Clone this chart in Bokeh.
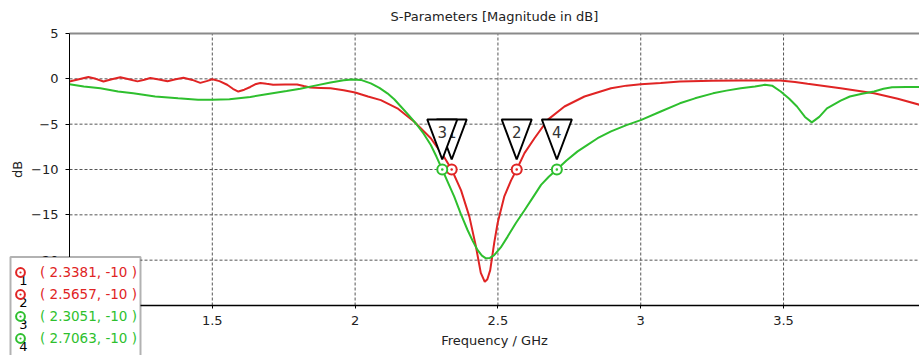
from bokeh.plotting import figure
from bokeh.models import (FixedTicker, LinearAxis, Legend, LegendItem, Label,
                          BoxAnnotation, Range1d, NumeralTickFormatter)
from bokeh.core.properties import value
from bokeh.embed import file_html
from bokeh.resources import INLINE

# ---------------- data ----------------
freq_s11 = [1.000, 1.033, 1.066, 1.092, 1.119, 1.148, 1.178, 1.208, 1.238, 1.262,
            1.283, 1.313, 1.343, 1.372, 1.399, 1.430, 1.458, 1.480, 1.500, 1.525,
            1.552, 1.572, 1.591, 1.612, 1.633, 1.650, 1.668, 1.690, 1.713, 1.755,
            1.797, 1.820, 1.843, 1.880, 1.914, 1.960, 2.000, 2.045, 2.090, 2.148,
            2.206, 2.265, 2.311, 2.3381, 2.371, 2.400, 2.423, 2.440, 2.454, 2.463,
            2.473, 2.487, 2.499, 2.522, 2.546, 2.5657, 2.593, 2.628, 2.675, 2.733,
            2.803, 2.896, 2.950, 3.000, 3.070, 3.137, 3.250, 3.350, 3.488, 3.540,
            3.584, 3.700, 3.817, 3.900, 3.977]
db_s11 = [-0.30, -0.05, 0.20, 0.00, -0.30, -0.05, 0.17, -0.05, -0.28, -0.10,
          0.10, -0.08, -0.27, -0.05, 0.12, -0.12, -0.45, -0.25, -0.05, -0.25,
          -0.65, -1.10, -1.40, -1.20, -0.90, -0.60, -0.45, -0.55, -0.65, -0.62,
          -0.62, -0.80, -0.95, -1.00, -1.05, -1.25, -1.50, -1.95, -2.35, -3.25,
          -4.70, -6.55, -8.60, -10.0, -12.3, -15.2, -18.5, -21.4, -22.4, -22.1,
          -21.1, -18.1, -15.9, -13.0, -11.2, -10.0, -8.2, -6.55, -4.50, -3.05,
          -1.95, -1.03, -0.75, -0.60, -0.45, -0.30, -0.22, -0.18, -0.19, -0.35,
          -0.55, -1.03, -1.58, -2.20, -2.87]

freq_s22 = [1.000, 1.050, 1.108, 1.170, 1.223, 1.300, 1.380, 1.450, 1.500, 1.560,
            1.633, 1.700, 1.760, 1.808, 1.860, 1.914, 1.960, 1.990, 2.020, 2.055,
            2.085, 2.113, 2.137, 2.160, 2.186, 2.212, 2.240, 2.265, 2.285, 2.3051,
            2.326, 2.347, 2.370, 2.394, 2.412, 2.429, 2.444, 2.458, 2.472, 2.487,
            2.510, 2.534, 2.563, 2.593, 2.622, 2.651, 2.678, 2.7063, 2.740, 2.779,
            2.815, 2.849, 2.896, 2.950, 3.000, 3.070, 3.137, 3.190, 3.253, 3.300,
            3.350, 3.400, 3.435, 3.460, 3.490, 3.520, 3.547, 3.575, 3.599, 3.625,
            3.652, 3.700, 3.732, 3.775, 3.817, 3.850, 3.880, 3.930, 3.977]
db_s22 = [-0.59, -0.85, -1.05, -1.40, -1.60, -1.95, -2.15, -2.30, -2.30, -2.25,
          -2.00, -1.65, -1.35, -1.10, -0.75, -0.40, -0.15, -0.08, -0.12, -0.50,
          -1.00, -1.60, -2.25, -3.05, -3.95, -4.90, -6.05, -7.30, -8.60, -10.0,
          -11.5, -13.0, -14.9, -16.7, -17.9, -18.9, -19.5, -19.8, -19.75, -19.45,
          -18.6, -17.4, -15.9, -14.5, -13.1, -11.7, -10.8, -10.0, -9.0, -8.0,
          -7.25, -6.55, -5.80, -5.10, -4.55, -3.60, -2.70, -2.15, -1.60, -1.30,
          -1.05, -0.85, -0.66, -0.75, -1.40, -2.20, -3.05, -4.20, -4.80, -4.20,
          -3.25, -2.40, -1.95, -1.65, -1.40, -1.10, -0.92, -0.90, -0.90]

marker_ids = ["1", "2", "3", "4"]
marker_freq = [2.3381, 2.5657, 2.3051, 2.7063]
marker_db = [-10, -10, -10, -10]
marker_series = ["S11", "S11", "S22", "S22"]

x_ticks = [1.5, 2.0, 2.5, 3.0, 3.5]
y_ticks = [5, 0, -5, -10, -15, -20, -25]

title_text = "S-Parameters [Magnitude in dB]"
x_label = "Frequency / GHz"
y_label = "dB"

# ---------------- style / geometry ----------------
RED = "#e02424"
GREEN = "#2ebf2e"
FONT = "DejaVu Sans"
TXT = "#222222"
W, H = 919, 355
AX_L, AX_T, AX_B = 69, 33, 305      # pixel position of the data area edges
X0, X1 = 1.0, 3.976
Y0, Y1 = -25, 5

sx = (W - AX_L) / (X1 - X0)          # px per GHz
sy = (AX_B - AX_T) / (Y1 - Y0)       # px per dB
XV0 = X0 - AX_L / sx                 # visible range extends into the margins
YV0 = Y0 - (H - AX_B) / sy
YV1 = Y1 + AX_T / sy

p = figure(width=W, height=H, x_range=Range1d(XV0, X1), y_range=Range1d(YV0, YV1),
           output_backend="svg", toolbar_location=None,
           min_border_left=0, min_border_right=0, min_border_top=0, min_border_bottom=0,
           background_fill_color="white", border_fill_color="white")
p.outline_line_color = None
p.xgrid.visible = False
p.ygrid.visible = False

# axes (fixed at the data origin so the frame can cover the margins)
for ax in (p.xaxis[0], p.yaxis[0]):
    ax.axis_line_color = "black"
    ax.major_tick_line_color = "black"
    ax.minor_tick_line_color = None
    ax.major_tick_in = 0
    ax.major_label_text_font = FONT
    ax.major_label_text_font_size = "13px"
    ax.major_label_text_color = TXT
    ax.axis_label_text_font = FONT
    ax.axis_label_text_font_size = "13px"
    ax.axis_label_text_font_style = "normal"
    ax.axis_label_text_color = TXT

p.xaxis.ticker = FixedTicker(ticks=x_ticks)
p.xaxis.formatter = NumeralTickFormatter(format="0.[0]")
p.xaxis.axis_label = x_label
p.xaxis.fixed_location = Y0
p.xaxis.bounds = (X0, X1)
p.xaxis.axis_line_width = 1.5
p.xaxis.major_tick_out = 3
p.xaxis.major_label_standoff = 7
p.xaxis.axis_label_standoff = 5

p.yaxis.ticker = FixedTicker(ticks=y_ticks)
p.yaxis.axis_label = y_label
p.yaxis.fixed_location = X0
p.yaxis.bounds = (Y0, Y1)
p.yaxis.axis_line_width = 1
p.yaxis.major_tick_out = 4
p.yaxis.major_label_standoff = 7
p.yaxis.axis_label_standoff = 3

top_axis = LinearAxis(ticker=FixedTicker(ticks=[]), axis_line_color="#8a8a8a",
                      axis_line_width=2, major_tick_line_color=None,
                      minor_tick_line_color=None, fixed_location=Y1, bounds=(X0, X1))
p.add_layout(top_axis, "above")

# title as a text annotation placed above the data area
p.add_layout(Label(x=390, y=H - 16, x_units="screen", y_units="screen", text=title_text,
                   text_align="left", text_baseline="middle", text_font=FONT,
                   text_font_size="13px", text_color=TXT))

# grid lines (from the tick arrays, inside the data area only)
gx = [t for t in x_ticks if X0 < t < X1]
gy = [t for t in y_ticks if Y0 < t < Y1]
p.segment(x0=gx, x1=gx, y0=[Y0] * len(gx), y1=[Y1] * len(gx),
          line_color="#555555", line_dash="3 2", line_width=1)
p.segment(x0=[X0] * len(gy), x1=[X1] * len(gy), y0=gy, y1=gy,
          line_color="#555555", line_dash="3 2", line_width=1)

# curves
p.line(freq_s11, db_s11, line_color=RED, line_width=2)
p.line(freq_s22, db_s22, line_color=GREEN, line_width=2)

colors = {"S11": RED, "S22": GREEN}
marker_renderers = []
for mid, f, d, s in zip(marker_ids, marker_freq, marker_db, marker_series):
    r = p.scatter([f], [d], marker="circle_dot", size=10, line_color=colors[s],
                  line_width=2, fill_color="white")
    marker_renderers.append(r)

# triangle flags above each marker
for mid, f, d in zip(marker_ids, marker_freq, marker_db):
    apex = d + 10 / sy
    topy = d + 50 / sy
    hw = 15 / sx
    p.patch([f - hw, f + hw, f], [topy, topy, apex], fill_color="white",
            line_color="black", line_width=2)
    p.text([f], [d + 38 / sy], text=[mid], text_align="center", text_baseline="middle",
           text_font=value(FONT), text_font_size="15px", text_color="#333333")

# legend box (screen units relative to frame: x from left, y from bottom)
box = BoxAnnotation(left=10, right=140, top=H - 256.5, bottom=-20,
                    left_units="screen", right_units="screen", top_units="screen",
                    bottom_units="screen", fill_color="white", fill_alpha=1.0,
                    line_color="black", line_width=2)
p.add_layout(box)

labels_txt = [f"( {f:.4f}, {d:g} )" for f, d in zip(marker_freq, marker_db)]


def make_legend(idx, color, vy):
    leg = Legend(items=[LegendItem(label=labels_txt[i], renderers=[marker_renderers[i]])
                        for i in idx],
                 location=(9, vy), padding=0, spacing=0, margin=0,
                 glyph_width=22, glyph_height=22, label_height=22, label_standoff=9,
                 label_text_font=FONT, label_text_font_size="13.5px",
                 label_text_color=color, background_fill_alpha=0,
                 border_line_color=None)
    p.add_layout(leg)


make_legend([0, 1], RED, H - 304.7)
make_legend([2, 3], GREEN, H - 349)

row_centers = [271.7, 293.5, 316, 337.7]
for mid, rc in zip(marker_ids, row_centers):
    p.add_layout(Label(x=23, y=H - (rc + 8), x_units="screen", y_units="screen",
                       text=mid, text_align="center", text_baseline="middle",
                       text_font=FONT, text_font_size="13px", text_color="black"))

open("out.html", "w").write(file_html(p, INLINE))
